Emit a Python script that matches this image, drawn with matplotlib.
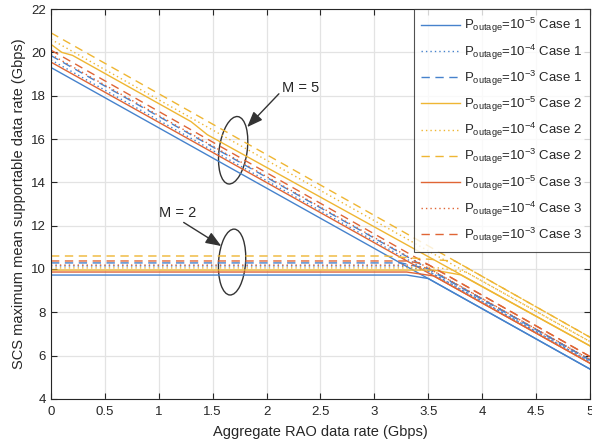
import matplotlib
matplotlib.use("Agg")
import matplotlib.pyplot as plt
from matplotlib.patches import Ellipse
from matplotlib.transforms import ScaledTranslation

plt.rcParams['font.family'] = ['Liberation Sans', 'DejaVu Sans']
plt.rcParams['mathtext.fontset'] = 'custom'
plt.rcParams['mathtext.rm'] = 'Liberation Sans'
plt.rcParams['mathtext.it'] = 'Liberation Sans'

# ---------------- data ----------------
outages = ['-5', '-4', '-3']
cases = ['1', '2', '3']

# M = 5 curves (x, y) per case / outage
m5_c1_e5_x = [0, 5];  m5_c1_e5_y = [19.30, 5.38]
m5_c1_e4_x = [0, 5];  m5_c1_e4_y = [19.65, 5.72]
m5_c1_e3_x = [0, 5];  m5_c1_e3_y = [19.85, 5.80]
m5_c2_e5_x = [0, 0.1, 0.2, 1.3, 1.45, 5];  m5_c2_e5_y = [20.37, 20.0, 19.86, 16.8, 16.2, 6.45]
m5_c2_e4_x = [0, 5];  m5_c2_e4_y = [20.60, 6.65]
m5_c2_e3_x = [0, 5];  m5_c2_e3_y = [20.90, 6.85]
m5_c3_e5_x = [0, 5];  m5_c3_e5_y = [19.55, 5.65]
m5_c3_e4_x = [0, 5];  m5_c3_e4_y = [19.90, 5.82]
m5_c3_e3_x = [0, 5];  m5_c3_e3_y = [20.10, 5.96]

# M = 2 curves
m2_c1_e5_x = [0, 3.3, 3.5, 5];   m2_c1_e5_y = [9.72, 9.72, 9.56, 5.38]
m2_c1_e4_x = [0, 3.25, 3.5, 5];  m2_c1_e4_y = [10.14, 10.14, 9.90, 5.72]
m2_c1_e3_x = [0, 3.25, 3.5, 5];  m2_c1_e3_y = [10.28, 10.28, 10.00, 5.80]
m2_c2_e5_x = [0, 3.55, 3.8, 5];  m2_c2_e5_y = [9.95, 9.95, 9.73, 6.45]
m2_c2_e4_x = [0, 3.6, 3.85, 5];  m2_c2_e4_y = [10.05, 10.05, 9.86, 6.65]
m2_c2_e3_x = [0, 3.1, 3.75, 5];  m2_c2_e3_y = [10.60, 10.60, 10.36, 6.85]
m2_c3_e5_x = [0, 3.3, 3.55, 5];  m2_c3_e5_y = [9.86, 9.86, 9.68, 5.65]
m2_c3_e4_x = [0, 3.3, 3.5, 5];   m2_c3_e4_y = [10.18, 10.18, 10.04, 5.82]
m2_c3_e3_x = [0, 3.3, 3.5, 5];   m2_c3_e3_y = [10.37, 10.37, 10.20, 5.96]

xticks = [0, 0.5, 1, 1.5, 2, 2.5, 3, 3.5, 4, 4.5, 5]
xticklabels = ['0', '0.5', '1', '1.5', '2', '2.5', '3', '3.5', '4', '4.5', '5']
yticks = [4, 6, 8, 10, 12, 14, 16, 18, 20, 22]

m5 = {
    ('1', '-5'): (m5_c1_e5_x, m5_c1_e5_y), ('1', '-4'): (m5_c1_e4_x, m5_c1_e4_y), ('1', '-3'): (m5_c1_e3_x, m5_c1_e3_y),
    ('2', '-5'): (m5_c2_e5_x, m5_c2_e5_y), ('2', '-4'): (m5_c2_e4_x, m5_c2_e4_y), ('2', '-3'): (m5_c2_e3_x, m5_c2_e3_y),
    ('3', '-5'): (m5_c3_e5_x, m5_c3_e5_y), ('3', '-4'): (m5_c3_e4_x, m5_c3_e4_y), ('3', '-3'): (m5_c3_e3_x, m5_c3_e3_y),
}
m2 = {
    ('1', '-5'): (m2_c1_e5_x, m2_c1_e5_y), ('1', '-4'): (m2_c1_e4_x, m2_c1_e4_y), ('1', '-3'): (m2_c1_e3_x, m2_c1_e3_y),
    ('2', '-5'): (m2_c2_e5_x, m2_c2_e5_y), ('2', '-4'): (m2_c2_e4_x, m2_c2_e4_y), ('2', '-3'): (m2_c2_e3_x, m2_c2_e3_y),
    ('3', '-5'): (m2_c3_e5_x, m2_c3_e5_y), ('3', '-4'): (m2_c3_e4_x, m2_c3_e4_y), ('3', '-3'): (m2_c3_e3_x, m2_c3_e3_y),
}

# ---------------- style ----------------
colors = {'1': '#4682cc', '2': '#efb633', '3': '#e06535'}
styles = {'-5': '-', '-4': (0, (1, 2.2)), '-3': (0, (6, 4))}
txt = '#262626'

fig = plt.figure(figsize=(5.92, 4.44), dpi=100)
ax = fig.add_axes([0.0861, 0.1014, 0.9105, 0.8783])

for c in cases:
    for o in outages:
        x, y = m5[(c, o)]
        ax.plot(x, y, color=colors[c], linestyle=styles[o], linewidth=1.0,
                label=r'P$_{\rm outage}$=10$^{' + o + r'}$ Case ' + c)
for c in cases:
    for o in outages:
        x, y = m2[(c, o)]
        ax.plot(x, y, color=colors[c], linestyle=styles[o], linewidth=1.0)

ax.set_xlim(0, 5)
ax.set_ylim(4, 22)
ax.set_xticks(xticks)
ax.set_xticklabels(xticklabels)
ax.set_yticks(yticks)
ax.grid(True, color='#e3e3e3', linewidth=0.9)
ax.set_axisbelow(True)
ax.tick_params(direction='in', top=True, right=True, labelsize=9.5, colors=txt, length=4)
ax.tick_params(axis='x', pad=5)
for s in ax.spines.values():
    s.set_color(txt)
    s.set_linewidth(0.8)
ax.set_xlabel('Aggregate RAO data rate (Gbps)', fontsize=10.5, color=txt, labelpad=5)
ax.set_ylabel('SCS maximum mean supportable data rate (Gbps)', fontsize=10.5, color=txt, labelpad=4)

leg = ax.legend(loc='upper right', fontsize=9.5, handlelength=3.0, frameon=True,
                fancybox=False, borderaxespad=0.0, labelspacing=0.53, borderpad=0.55,
                handletextpad=0.3)
leg.get_frame().set_edgecolor(txt)
leg.get_frame().set_linewidth(0.8)
for t in leg.get_texts():
    t.set_color(txt)

# ellipses (size in inches, placed at data points)
def ell(xc, yc, w, h, ang):
    e = Ellipse((0, 0), w, h, angle=ang, fill=False, edgecolor='#333333', linewidth=1.0,
                transform=fig.dpi_scale_trans + ScaledTranslation(xc, yc, ax.transData))
    ax.add_patch(e)

ell(1.69, 15.48, 0.28, 0.68, -8)
ell(1.68, 10.32, 0.27, 0.66, -4)

ax.annotate('M = 5', xy=(1.82, 16.55), xytext=(2.14, 18.35), fontsize=10.5, color=txt,
            ha='left', va='center',
            arrowprops=dict(arrowstyle='-|>,head_length=0.9,head_width=0.35', color='#333333',
                            linewidth=1.0, shrinkA=0, shrinkB=0, relpos=(0, 0.3)))
ax.annotate('M = 2', xy=(1.58, 11.06), xytext=(1.0, 12.6), fontsize=10.5, color=txt,
            ha='left', va='center',
            arrowprops=dict(arrowstyle='-|>,head_length=0.9,head_width=0.35', color='#333333',
                            linewidth=1.0, shrinkA=0, shrinkB=0, relpos=(0.55, 0.0)))

fig.savefig('out.png', dpi=100)
